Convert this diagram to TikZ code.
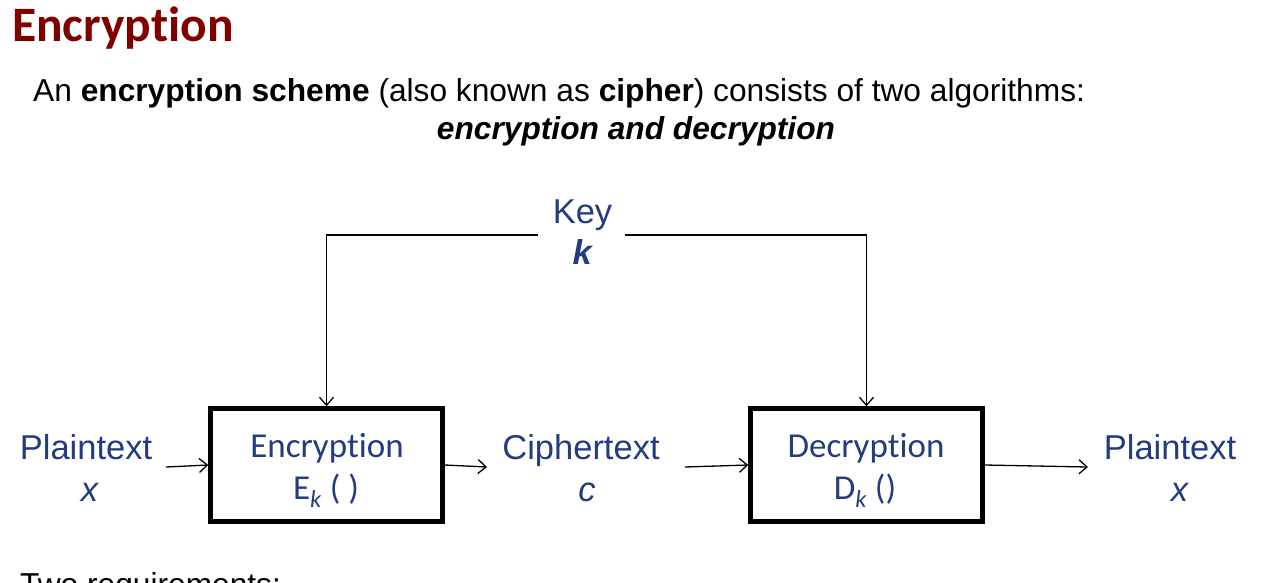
\documentclass[tikz,border=0pt]{standalone}
\usepackage{fontspec}
\setmainfont{Liberation Sans}
\newfontfamily\calfont[Ligatures={NoCommon,NoRequired,NoContextual}]{Carlito}
\usetikzlibrary{arrows.meta}
\definecolor{txtblue}{RGB}{35,60,125}
\definecolor{titlered}{RGB}{128,0,0}

\begin{document}
\begin{tikzpicture}[x=1pt,y=-1pt,
  txt/.style={inner sep=0pt, anchor=base, text=black, font=\fontsize{31.7}{38}\selectfont},
  lbl/.style={inner sep=0pt, anchor=base, text=txtblue, font=\fontsize{34.5}{42}\selectfont},
  boxlbl/.style={inner sep=0pt, anchor=base, text=txtblue, font=\calfont\fontsize{35}{42}\selectfont},
  algbox/.style={draw=black, line width=4.5pt, minimum width=232pt, minimum height=113pt, inner sep=0pt},
  conn/.style={line width=1.3pt, -{Straight Barb[length=8pt,width=14pt,line width=1.3pt]}},
]
\useasboundingbox (0,0) rectangle (1267,582);
\clip (0,0) rectangle (1267,582);

% heading and introduction
\node[inner sep=0pt, anchor=base west, text=titlered, font=\calfont\bfseries\fontsize{49.5}{58}\selectfont] (title) at (12,41) {Encryption};
\node[txt, anchor=base west] (intro) at (33,101) {An \textbf{encryption scheme} (also known as \textbf{cipher}) consists of two algorithms:};
\node[txt] (intro2) at (636,139) {\textbf{\textit{encryption and decryption}}};

% key
\node[lbl] (key) at (582.5,223) {Key};
\node[lbl] (keyk) at (583,264) {\textbf{\textit{k}}};
\coordinate (kl) at (538,235);
\coordinate (kr) at (625,235);

% the two algorithms
\node[algbox] (enc) at (326.5,465) {};
\node[boxlbl] (encname) at (327,457) {Encryption};
\node[boxlbl] (encfun) at (326,499) {E\textsubscript{\itshape k} ( )};
\node[algbox] (dec) at (866.5,465) {};
\node[boxlbl] (decname) at (866,457) {Decryption};
\node[boxlbl] (decfun) at (865,499) {D\textsubscript{\itshape k} ()};

% messages
\node[lbl] (pin) at (86,459) {Plaintext};
\node[lbl] (pinx) at (90,501) {\textit{x}};
\node[lbl] (ct) at (581,459) {Ciphertext};
\node[lbl] (ctc) at (587,501) {\textit{c}};
\node[lbl] (pout) at (1170,459) {Plaintext};
\node[lbl] (poutx) at (1180,501) {\textit{x}};

% connectors
\coordinate (a1) at (166,467);
\coordinate (a2) at (487,467);
\coordinate (a3) at (685,467);
\coordinate (a4) at (1088,467);
\draw[conn] (a1) -- (enc.west);
\draw[conn] (enc.east) -- (a2);
\draw[conn] (a3) -- (dec.west);
\draw[conn] (dec.east) -- (a4);
\draw[conn] (kl) -| (enc.north);
\draw[conn] (kr) -| (dec.north);

% next paragraph
\node[txt, anchor=base west] (req) at (20,595) {Two requirements:};
\end{tikzpicture}
\end{document}
